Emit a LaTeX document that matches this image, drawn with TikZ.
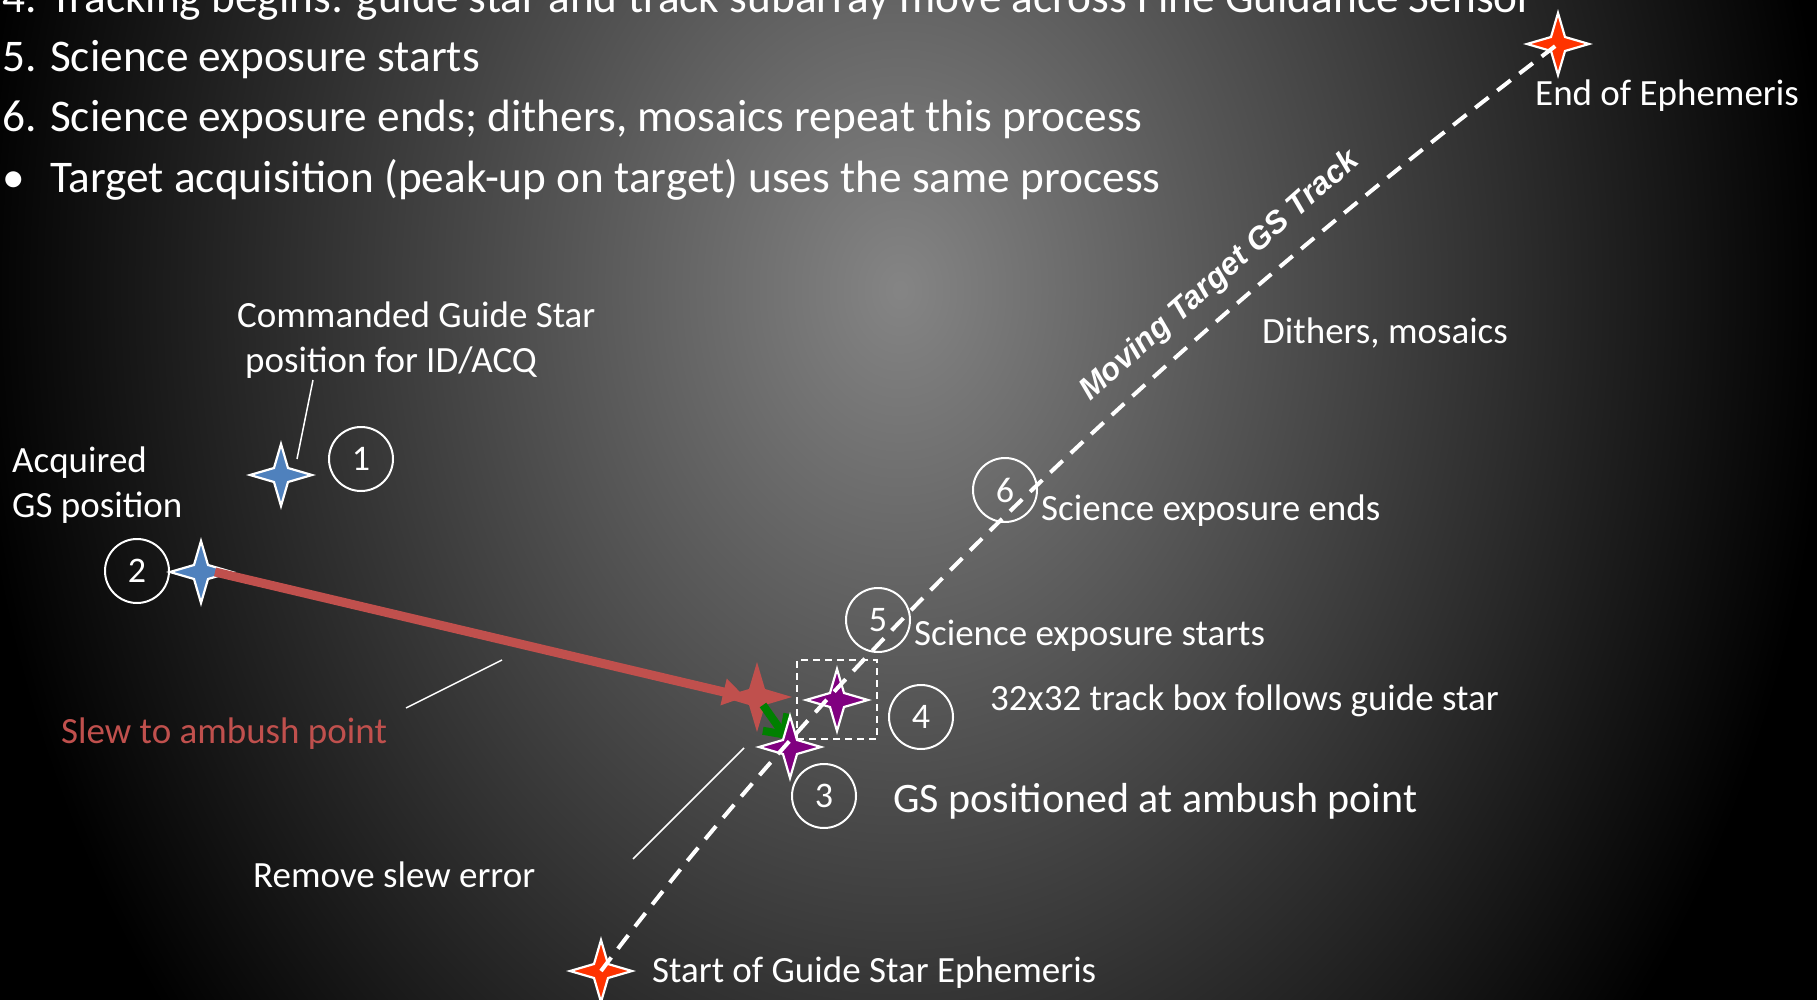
\documentclass[tikz,border=0pt]{standalone}
\usepackage{fontspec}
\setmainfont{Carlito}
\newfontfamily\trackfont{Liberation Sans}
\usetikzlibrary{arrows.meta}
\definecolor{gsblue}{HTML}{4F81BD}
\definecolor{gsred}{HTML}{C0504D}
\definecolor{gspurple}{HTML}{800080}
\definecolor{gsorange}{HTML}{FF3300}
\definecolor{gsgreen}{HTML}{008000}
\definecolor{bgcenter}{gray}{0.52}
\newcommand\gsstar[4]{%
  \path[#4, shift={(#1)}] (0,-#2) -- (#3,-#3) -- (#2,0) -- (#3,#3) -- (0,#2) -- (-#3,#3) -- (-#2,0) -- (-#3,-#3) -- cycle;}
\begin{document}
\begin{tikzpicture}[x=1pt,y=-1pt,
  lbl/.style={inner sep=0pt, anchor=base west, text=white, font=\fontsize{37}{44}\selectfont},
  biglbl/.style={inner sep=0pt, anchor=base west, text=white, font=\fontsize{45.3}{54}\selectfont},
  numcirc/.style={circle, draw=white, line width=2pt, minimum size=64pt, inner sep=0pt, text=white, font=\fontsize{36}{43}\selectfont},
  leader/.style={draw=white, line width=1.5pt},
  starw/.style={fill=#1, draw=white, line width=2.2pt, miter limit=10},
  starplain/.style={fill=#1}
]
\useasboundingbox (0,0) rectangle (1817,1000);
\fill[black] (0,0) rectangle (1817,1000);
\begin{scope}
  \clip (0,0) rectangle (1817,1000);
  \shade[inner color=bgcenter, outer color=black] (900,290) ellipse [x radius=930pt, y radius=1180pt];
\end{scope}

% list text
\node[biglbl] (n4) at (2,13) {4.};
\node[biglbl] (t4) at (50,13) {Tracking begins: guide star and track subarray move across Fine Guidance Sensor};
\node[biglbl] (n5) at (2,72) {5.};
\node[biglbl] (t5) at (50,72) {Science exposure starts};
\node[biglbl] (n6) at (2,132) {6.};
\node[biglbl] (t6) at (50,132) {Science exposure ends; dithers, mosaics repeat this process};
\node[biglbl] (nb) at (2,193) {•};
\node[biglbl] (tb) at (50,193) {Target acquisition (peak-up on target) uses the same process};

% star positions
\coordinate (s1) at (281,475);
\coordinate (s2) at (201,572);
\coordinate (sred) at (757,697);
\coordinate (s3) at (790,747);
\coordinate (s4) at (837,700);
\coordinate (sstart) at (601,971);
\coordinate (send) at (1558,44);

% leader lines
\coordinate (l1a) at (297,459);
\coordinate (l1b) at (313,380);
\coordinate (l2a) at (406,708);
\coordinate (l2b) at (502,660);
\coordinate (l3a) at (633,859);
\coordinate (l3b) at (744,748);
\draw[leader] (l1a) -- (l1b);
\draw[leader] (l2a) -- (l2b);
\draw[leader] (l3a) -- (l3b);

% stars
\gsstar{s1}{31}{7}{starw=gsblue}
\gsstar{s2}{31}{7}{starw=gsblue}
\gsstar{sred}{35}{8}{starplain=gsred}

% slew arrow
\draw[gsred, line width=9pt, -{Triangle[length=22pt,width=26pt]}] ([xshift=14pt]s2) -- ([xshift=-12pt]sred);
% remove slew error arrow
\draw[gsgreen, line width=8pt, -{Straight Barb[length=15pt,width=30pt]}] ([shift={(6,8)}]sred) -- ([shift={(-3,-8)}]s3);

\gsstar{s3}{31}{7}{starw=gspurple}
\gsstar{s4}{31}{7}{starw=gspurple}
\gsstar{sstart}{31}{7}{starw=gsorange}
\gsstar{send}{31}{7}{starw=gsorange}

% track box
\node[draw=white, line width=2pt, dash pattern=on 7pt off 5pt, minimum width=80pt, minimum height=79pt, inner sep=0pt] (tbox) at (837,699.5) {};

% moving target track
\draw[white, line width=4pt, dash pattern=on 17pt off 11pt] (sstart) .. controls (836,658) and (1155,350) .. (send);
\node[rotate=41.5, anchor=base west, inner sep=0pt, text=white, font=\trackfont\bfseries\itshape\fontsize{31.5}{38}\selectfont] (mt) at (1090,402) {Moving Target GS Track};

% numbered circles
\node[numcirc] (c1) at (361,459) {1};
\node[numcirc] (c2) at (137,571) {2};
\node[numcirc] (c3) at (824,796) {3};
\node[numcirc] (c4) at (921,717) {4};
\node[numcirc] (c5) at (878,620) {5};
\node[numcirc] (c6) at (1005,490) {6};

% labels
\node[lbl] (lcmd1) at (237,327) {Commanded Guide Star};
\node[lbl] (lcmd2) at (245,372) {position for ID/ACQ};
\node[lbl] (lacq1) at (12,472) {Acquired};
\node[lbl] (lacq2) at (12,517) {GS position};
\node[lbl, text=gsred] (lslew) at (61,743) {Slew to ambush point};
\node[lbl] (lrem) at (253,887) {Remove slew error};
\node[lbl] (lstart) at (652,982) {Start of Guide Star Ephemeris};
\node[lbl] (lend) at (1535,106) {End of Ephemeris};
\node[lbl] (ldith) at (1262,343) {Dithers, mosaics};
\node[lbl] (lends) at (1041,520) {Science exposure ends};
\node[lbl] (lstarts) at (914,645) {Science exposure starts};
\node[lbl] (lbox) at (990,710) {32x32 track box follows guide star};
\node[inner sep=0pt, anchor=base west, text=white, font=\fontsize{42}{50}\selectfont] (lamb) at (893,812) {GS positioned at ambush point};
\end{tikzpicture}
\end{document}
